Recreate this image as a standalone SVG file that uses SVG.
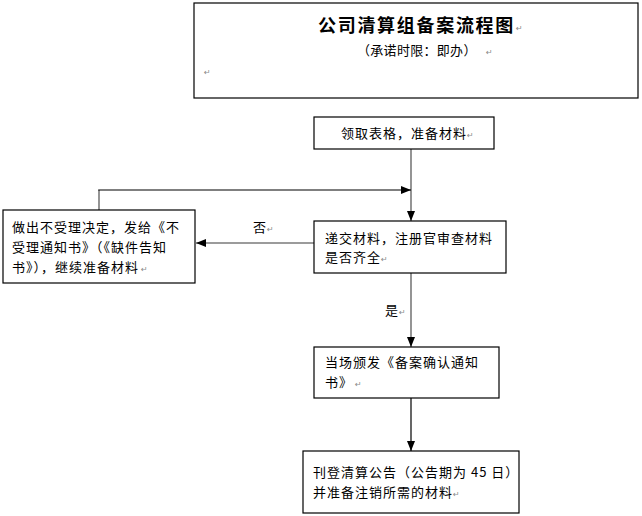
<svg xmlns="http://www.w3.org/2000/svg" width="642" height="516" viewBox="0 0 642 516">
<style>
.box{fill:#fff;stroke:#000;stroke-width:1.2}
.t{font-family:"Noto Sans CJK SC","Liberation Sans",sans-serif;font-size:13px;letter-spacing:1px;fill:#000}
.title{font-family:"Noto Sans CJK SC","Liberation Sans",sans-serif;font-size:18px;font-weight:bold;letter-spacing:1.7px;fill:#000}
.pm{font-family:"DejaVu Sans",sans-serif;font-size:8px;fill:#888}
.gl{fill:none;stroke:#7a7a7a;stroke-width:1.6}
.bl{fill:none;stroke:#000;stroke-width:1.2}
</style>
<defs>
<marker id="ah" markerUnits="userSpaceOnUse" markerWidth="10" markerHeight="10" viewBox="0 0 10 10" refX="10" refY="5" orient="auto">
<path d="M0,1 L10,5 L0,9 Z" fill="#000"/>
</marker>
</defs>
<rect width="642" height="516" fill="#fff"/>

<g id="header">
<rect class="box" x="194" y="3" width="444" height="95"/>
<text class="title" x="318" y="32">公司清算组备案流程图</text><text class="pm" x="516" y="31">↵</text>
<text class="t" x="357" y="55" style="letter-spacing:0.3px">（承诺时限：即办）</text><text class="pm" x="486" y="55">↵</text>
<text class="pm" x="204" y="75">↵</text>
</g>

<g id="connectors">
<line class="gl" x1="411" y1="149" x2="411" y2="221" marker-end="url(#ah)"/>
<line class="gl" x1="99" y1="210" x2="99" y2="190"/>
<line class="bl" x1="98.2" y1="190" x2="411" y2="190" marker-end="url(#ah)"/>
<line class="gl" x1="314" y1="243" x2="196" y2="243" marker-end="url(#ah)"/>
<line class="gl" x1="411" y1="273" x2="411" y2="347" marker-end="url(#ah)"/>
<line class="bl" x1="411" y1="398" x2="411" y2="451" marker-end="url(#ah)"/>
<text class="t" x="253" y="232">否</text><text class="pm" x="267" y="232">↵</text>
<text class="t" x="385" y="315">是</text><text class="pm" x="399" y="315">↵</text>
</g>

<g id="n1">
<rect class="box" x="314" y="117" width="180" height="32"/>
<text class="t" x="341" y="138">领取表格，准备材料</text><text class="pm" x="467" y="138">↵</text>
</g>

<g id="n2">
<rect class="box" x="314" y="221" width="192" height="52"/>
<text class="t" x="325" y="243">递交材料，注册官审查材料</text>
<text class="t" x="325" y="262">是否齐全</text><text class="pm" x="381" y="262">↵</text>
</g>

<g id="n3">
<rect class="box" x="3" y="210" width="192" height="73"/>
<text class="t" x="12" y="232">做出不受理决定，发给《不</text>
<text class="t" x="12" y="252">受理通知书》（《缺件告知</text>
<text class="t" x="12" y="272">书》），继续准备材料</text><text class="pm" x="141" y="272">↵</text>
</g>

<g id="n4">
<rect class="box" x="314" y="347" width="185" height="51"/>
<text class="t" x="325" y="367">当场颁发《备案确认通知</text>
<text class="t" x="325" y="387">书》</text><text class="pm" x="355" y="387">↵</text>
</g>

<g id="n5">
<rect class="box" x="303" y="451" width="216" height="62"/>
<text class="t" x="313" y="477">刊登清算公告（公告期为 45 日）</text>
<text class="t" x="313" y="497">并准备注销所需的材料</text><text class="pm" x="453" y="497">↵</text>
</g>
</svg>
